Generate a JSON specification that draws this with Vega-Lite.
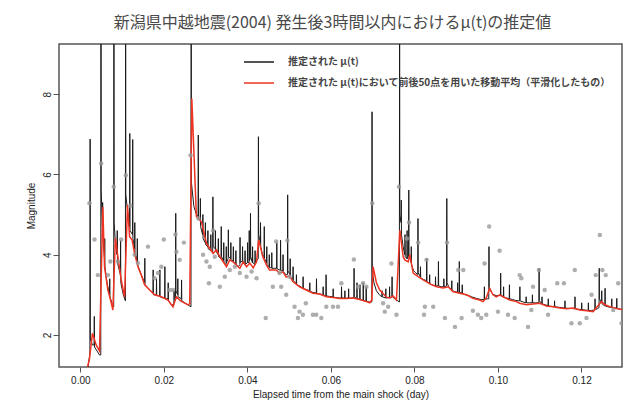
{
  "$schema": "https://vega.github.io/schema/vega-lite/v6.json",
  "width": 563,
  "height": 323,
  "autosize": {"type": "none"},
  "padding": {"left": 59, "top": 44, "right": 2, "bottom": 38},
  "background": "white",
  "config": {"view": {"stroke": "#555555", "strokeWidth": 1.5}, "font": "Liberation Sans"},
  "title": {"text": "新潟県中越地震(2004) 発生後3時間以内におけるμ(t)の推定値", "font": "Noto Sans CJK JP", "fontSize": 16, "fontWeight": "normal", "color": "#4a4a4a", "offset": 13, "anchor": "middle", "dx": -8},
  "datasets": {
    "mu": [
      {"t":0.0015,"m":0.9},{"t":0.0023,"m":1.55},{"t":0.00235,"m":6.88},{"t":0.0024,"m":1.9},{"t":0.0029,"m":1.75},{"t":0.0033,"m":1.75},{"t":0.00335,"m":2.46},{"t":0.0034,"m":1.7},{"t":0.0040,"m":1.6},{"t":0.0046,"m":1.5},{"t":0.0049,"m":1.5},{"t":0.00495,"m":12},{"t":0.0050,"m":5.6},{"t":0.0053,"m":4.7},{"t":0.00535,"m":5.3},{"t":0.0054,"m":4.5},{"t":0.0058,"m":3.9},{"t":0.00585,"m":4.4},{"t":0.0059,"m":3.7},{"t":0.0064,"m":3.3},{"t":0.0070,"m":3.0},{"t":0.00705,"m":3.4},{"t":0.0071,"m":2.95},{"t":0.0077,"m":2.75},{"t":0.0080,"m":2.7},{"t":0.00805,"m":12},{"t":0.0081,"m":4.8},{"t":0.0084,"m":4.3},{"t":0.0088,"m":4.0},{"t":0.00885,"m":4.6},{"t":0.0089,"m":3.8},{"t":0.0096,"m":3.5},{"t":0.00965,"m":4.35},{"t":0.0097,"m":3.3},{"t":0.0103,"m":3.0},{"t":0.0108,"m":2.85},{"t":0.01085,"m":12},{"t":0.0109,"m":5.5},{"t":0.0115,"m":4.9},{"t":0.0118,"m":4.7},{"t":0.01185,"m":7.02},{"t":0.0119,"m":4.6},{"t":0.0125,"m":4.5},{"t":0.01255,"m":6.87},{"t":0.0126,"m":4.4},{"t":0.0130,"m":4.15},{"t":0.01305,"m":4.8},{"t":0.0131,"m":4.05},{"t":0.0136,"m":3.85},{"t":0.01365,"m":4.4},{"t":0.0137,"m":3.75},{"t":0.0146,"m":3.5},{"t":0.0154,"m":3.3},{"t":0.01545,"m":3.91},{"t":0.0155,"m":3.25},{"t":0.0164,"m":3.15},{"t":0.0174,"m":3.05},{"t":0.01745,"m":3.62},{"t":0.0175,"m":3.0},{"t":0.0182,"m":3.0},{"t":0.01825,"m":3.4},{"t":0.0183,"m":2.98},{"t":0.0190,"m":2.98},{"t":0.01905,"m":3.62},{"t":0.0191,"m":2.95},{"t":0.0196,"m":2.93},{"t":0.0202,"m":2.92},{"t":0.02025,"m":3.7},{"t":0.0203,"m":2.9},{"t":0.0210,"m":2.9},{"t":0.02105,"m":3.3},{"t":0.0211,"m":2.85},{"t":0.0218,"m":2.75},{"t":0.0224,"m":2.75},{"t":0.02245,"m":3.1},{"t":0.0225,"m":2.9},{"t":0.0228,"m":2.85},{"t":0.02285,"m":5.03},{"t":0.0229,"m":3.1},{"t":0.0233,"m":3.0},{"t":0.02335,"m":3.4},{"t":0.0234,"m":2.95},{"t":0.0242,"m":2.9},{"t":0.02425,"m":3.37},{"t":0.0243,"m":2.85},{"t":0.0250,"m":2.8},{"t":0.0258,"m":2.75},{"t":0.0265,"m":2.7},{"t":0.02655,"m":12},{"t":0.0266,"m":5.8},{"t":0.0272,"m":5.2},{"t":0.0278,"m":5.0},{"t":0.0282,"m":4.95},{"t":0.02825,"m":6.98},{"t":0.0283,"m":4.9},{"t":0.0287,"m":4.85},{"t":0.02875,"m":5.4},{"t":0.0288,"m":4.7},{"t":0.0293,"m":4.5},{"t":0.02935,"m":5.0},{"t":0.0294,"m":4.4},{"t":0.0299,"m":4.3},{"t":0.02995,"m":4.8},{"t":0.0300,"m":4.25},{"t":0.0305,"m":4.2},{"t":0.03055,"m":4.6},{"t":0.0306,"m":4.15},{"t":0.0312,"m":4.1},{"t":0.03125,"m":4.5},{"t":0.0313,"m":4.1},{"t":0.0317,"m":4.05},{"t":0.03175,"m":5.44},{"t":0.0318,"m":4.2},{"t":0.0323,"m":4.15},{"t":0.03235,"m":4.6},{"t":0.0324,"m":4.1},{"t":0.0330,"m":4.0},{"t":0.03305,"m":4.4},{"t":0.0331,"m":3.95},{"t":0.0337,"m":3.9},{"t":0.03375,"m":4.7},{"t":0.0338,"m":3.95},{"t":0.0343,"m":3.85},{"t":0.03435,"m":4.3},{"t":0.0344,"m":3.8},{"t":0.0349,"m":3.75},{"t":0.03495,"m":4.2},{"t":0.0350,"m":3.8},{"t":0.0354,"m":3.9},{"t":0.03545,"m":4.62},{"t":0.0355,"m":3.95},{"t":0.0360,"m":3.9},{"t":0.03605,"m":4.3},{"t":0.0361,"m":3.85},{"t":0.0366,"m":3.85},{"t":0.03665,"m":4.2},{"t":0.0367,"m":3.8},{"t":0.0372,"m":3.75},{"t":0.03725,"m":4.1},{"t":0.0373,"m":3.75},{"t":0.0378,"m":3.7},{"t":0.0382,"m":3.75},{"t":0.03825,"m":4.43},{"t":0.0383,"m":3.8},{"t":0.0388,"m":3.85},{"t":0.03885,"m":4.2},{"t":0.0389,"m":3.8},{"t":0.0394,"m":3.75},{"t":0.03945,"m":4.1},{"t":0.0395,"m":3.75},{"t":0.0400,"m":3.8},{"t":0.04005,"m":4.3},{"t":0.0401,"m":3.8},{"t":0.0404,"m":3.8},{"t":0.04045,"m":4.6},{"t":0.0405,"m":3.85},{"t":0.0407,"m":3.9},{"t":0.04075,"m":5.03},{"t":0.0408,"m":3.95},{"t":0.0412,"m":3.8},{"t":0.04125,"m":4.2},{"t":0.0413,"m":3.8},{"t":0.0418,"m":3.75},{"t":0.04185,"m":4.1},{"t":0.0419,"m":3.8},{"t":0.0422,"m":3.85},{"t":0.0426,"m":3.9},{"t":0.04265,"m":6.94},{"t":0.0427,"m":4.5},{"t":0.0431,"m":4.3},{"t":0.04315,"m":4.8},{"t":0.0432,"m":4.2},{"t":0.0436,"m":4.0},{"t":0.0440,"m":3.95},{"t":0.04405,"m":4.7},{"t":0.0441,"m":3.9},{"t":0.0446,"m":3.8},{"t":0.04465,"m":4.2},{"t":0.0447,"m":3.75},{"t":0.0452,"m":3.7},{"t":0.04525,"m":4.0},{"t":0.0453,"m":3.68},{"t":0.0458,"m":3.67},{"t":0.04585,"m":4.05},{"t":0.0459,"m":3.66},{"t":0.0464,"m":3.66},{"t":0.0470,"m":3.66},{"t":0.04705,"m":4.3},{"t":0.0471,"m":3.65},{"t":0.0476,"m":3.62},{"t":0.0479,"m":3.62},{"t":0.04795,"m":4.36},{"t":0.0480,"m":3.6},{"t":0.0485,"m":3.6},{"t":0.04855,"m":4.0},{"t":0.0486,"m":3.58},{"t":0.0492,"m":3.5},{"t":0.0496,"m":3.5},{"t":0.04965,"m":5.49},{"t":0.0497,"m":3.6},{"t":0.0502,"m":3.5},{"t":0.05025,"m":3.9},{"t":0.0503,"m":3.45},{"t":0.0509,"m":3.38},{"t":0.05095,"m":3.7},{"t":0.0510,"m":3.35},{"t":0.0517,"m":3.28},{"t":0.05175,"m":3.5},{"t":0.0518,"m":3.25},{"t":0.0525,"m":3.22},{"t":0.0533,"m":3.16},{"t":0.05335,"m":3.45},{"t":0.0534,"m":3.15},{"t":0.0541,"m":3.13},{"t":0.0549,"m":3.1},{"t":0.05495,"m":3.3},{"t":0.0550,"m":3.08},{"t":0.0557,"m":3.06},{"t":0.0565,"m":3.04},{"t":0.05655,"m":3.4},{"t":0.0566,"m":3.03},{"t":0.0573,"m":3.02},{"t":0.0581,"m":3.0},{"t":0.05815,"m":3.2},{"t":0.0582,"m":2.99},{"t":0.0588,"m":2.98},{"t":0.05885,"m":3.5},{"t":0.0589,"m":2.97},{"t":0.0596,"m":2.96},{"t":0.0605,"m":2.95},{"t":0.06055,"m":3.15},{"t":0.0606,"m":2.94},{"t":0.0613,"m":2.93},{"t":0.0621,"m":2.92},{"t":0.0625,"m":2.92},{"t":0.06255,"m":3.2},{"t":0.0626,"m":2.92},{"t":0.0633,"m":2.92},{"t":0.06335,"m":3.1},{"t":0.0634,"m":2.91},{"t":0.0642,"m":2.92},{"t":0.06425,"m":3.15},{"t":0.0643,"m":2.91},{"t":0.0649,"m":2.92},{"t":0.0655,"m":2.92},{"t":0.06555,"m":3.66},{"t":0.0656,"m":2.95},{"t":0.0662,"m":2.9},{"t":0.06625,"m":3.3},{"t":0.0663,"m":2.9},{"t":0.0669,"m":2.88},{"t":0.06695,"m":3.25},{"t":0.0670,"m":2.88},{"t":0.0677,"m":2.86},{"t":0.06775,"m":3.3},{"t":0.0678,"m":2.85},{"t":0.0684,"m":2.84},{"t":0.06845,"m":3.2},{"t":0.0685,"m":2.84},{"t":0.0692,"m":2.82},{"t":0.0698,"m":2.82},{"t":0.06985,"m":7.56},{"t":0.0699,"m":3.6},{"t":0.0703,"m":3.3},{"t":0.0709,"m":3.1},{"t":0.0716,"m":3.0},{"t":0.0722,"m":2.95},{"t":0.07225,"m":3.1},{"t":0.0723,"m":2.95},{"t":0.0731,"m":2.92},{"t":0.07315,"m":3.15},{"t":0.0732,"m":2.92},{"t":0.0740,"m":2.93},{"t":0.07405,"m":3.2},{"t":0.0741,"m":2.92},{"t":0.0746,"m":2.95},{"t":0.07465,"m":3.45},{"t":0.0747,"m":2.95},{"t":0.0753,"m":2.9},{"t":0.0760,"m":2.85},{"t":0.0764,"m":2.82},{"t":0.07645,"m":12},{"t":0.0765,"m":5.0},{"t":0.0768,"m":4.8},{"t":0.07685,"m":5.36},{"t":0.0769,"m":4.5},{"t":0.0773,"m":4.2},{"t":0.0777,"m":4.0},{"t":0.07775,"m":4.5},{"t":0.0778,"m":3.95},{"t":0.0782,"m":3.9},{"t":0.07825,"m":4.6},{"t":0.0783,"m":3.9},{"t":0.0786,"m":3.95},{"t":0.07865,"m":5.61},{"t":0.0787,"m":4.0},{"t":0.0792,"m":3.8},{"t":0.07925,"m":4.2},{"t":0.0793,"m":3.75},{"t":0.0798,"m":3.6},{"t":0.0803,"m":3.55},{"t":0.0808,"m":3.5},{"t":0.08085,"m":4.9},{"t":0.0809,"m":3.55},{"t":0.0814,"m":3.45},{"t":0.08145,"m":3.7},{"t":0.0815,"m":3.42},{"t":0.0822,"m":3.38},{"t":0.0829,"m":3.35},{"t":0.08295,"m":3.91},{"t":0.0830,"m":3.33},{"t":0.0836,"m":3.28},{"t":0.08365,"m":3.5},{"t":0.0837,"m":3.27},{"t":0.0844,"m":3.24},{"t":0.0850,"m":3.22},{"t":0.08505,"m":3.45},{"t":0.0851,"m":3.22},{"t":0.0857,"m":3.22},{"t":0.08575,"m":3.83},{"t":0.0858,"m":3.22},{"t":0.0864,"m":3.2},{"t":0.0870,"m":3.2},{"t":0.08705,"m":3.4},{"t":0.0871,"m":3.2},{"t":0.0877,"m":3.22},{"t":0.08775,"m":5.4},{"t":0.0878,"m":3.3},{"t":0.0883,"m":3.18},{"t":0.0889,"m":3.12},{"t":0.08895,"m":3.35},{"t":0.0890,"m":3.1},{"t":0.0897,"m":3.08},{"t":0.0903,"m":3.06},{"t":0.09035,"m":3.3},{"t":0.0904,"m":3.06},{"t":0.0907,"m":3.05},{"t":0.09075,"m":3.83},{"t":0.0908,"m":3.06},{"t":0.0914,"m":3.04},{"t":0.09145,"m":3.25},{"t":0.0915,"m":3.03},{"t":0.0922,"m":3.0},{"t":0.0930,"m":2.98},{"t":0.0937,"m":2.95},{"t":0.0945,"m":2.92},{"t":0.0952,"m":2.9},{"t":0.0960,"m":2.88},{"t":0.0967,"m":2.88},{"t":0.09675,"m":3.2},{"t":0.0968,"m":2.88},{"t":0.0974,"m":2.9},{"t":0.0978,"m":2.9},{"t":0.09785,"m":4.2},{"t":0.0979,"m":3.2},{"t":0.0985,"m":3.05},{"t":0.0990,"m":3.0},{"t":0.0996,"m":2.98},{"t":0.1000,"m":2.98},{"t":0.1006,"m":2.98},{"t":0.10065,"m":3.54},{"t":0.1007,"m":3.0},{"t":0.1013,"m":2.95},{"t":0.10135,"m":3.2},{"t":0.1014,"m":2.94},{"t":0.1020,"m":2.92},{"t":0.1027,"m":2.9},{"t":0.10275,"m":3.25},{"t":0.1028,"m":2.9},{"t":0.1035,"m":2.88},{"t":0.1042,"m":2.86},{"t":0.1048,"m":2.85},{"t":0.1052,"m":2.85},{"t":0.10525,"m":3.2},{"t":0.1053,"m":2.85},{"t":0.1060,"m":2.82},{"t":0.1067,"m":2.8},{"t":0.10675,"m":2.95},{"t":0.1068,"m":2.8},{"t":0.1075,"m":2.8},{"t":0.1082,"m":2.8},{"t":0.10825,"m":3.0},{"t":0.1083,"m":2.8},{"t":0.1090,"m":2.8},{"t":0.1098,"m":2.8},{"t":0.10985,"m":3.66},{"t":0.1099,"m":2.85},{"t":0.1105,"m":2.78},{"t":0.11055,"m":2.95},{"t":0.1106,"m":2.77},{"t":0.1113,"m":2.75},{"t":0.1120,"m":2.73},{"t":0.11205,"m":2.9},{"t":0.1121,"m":2.72},{"t":0.1128,"m":2.71},{"t":0.1135,"m":2.7},{"t":0.11355,"m":2.85},{"t":0.1136,"m":2.7},{"t":0.1144,"m":2.69},{"t":0.1152,"m":2.68},{"t":0.1160,"m":2.67},{"t":0.11605,"m":2.85},{"t":0.1161,"m":2.67},{"t":0.1168,"m":2.66},{"t":0.1176,"m":2.66},{"t":0.1184,"m":2.65},{"t":0.11845,"m":2.95},{"t":0.1185,"m":2.65},{"t":0.1192,"m":2.64},{"t":0.1200,"m":2.63},{"t":0.12005,"m":2.8},{"t":0.1201,"m":2.63},{"t":0.1208,"m":2.62},{"t":0.1216,"m":2.61},{"t":0.12165,"m":2.8},{"t":0.1217,"m":2.61},{"t":0.1224,"m":2.61},{"t":0.1232,"m":2.62},{"t":0.12325,"m":2.9},{"t":0.1233,"m":2.63},{"t":0.1238,"m":2.65},{"t":0.1242,"m":2.68},{"t":0.12425,"m":3.66},{"t":0.1243,"m":2.9},{"t":0.1248,"m":2.8},{"t":0.12485,"m":3.1},{"t":0.1249,"m":2.78},{"t":0.1256,"m":2.72},{"t":0.12565,"m":3.16},{"t":0.1257,"m":2.72},{"t":0.1264,"m":2.7},{"t":0.1272,"m":2.68},{"t":0.12725,"m":2.9},{"t":0.1273,"m":2.68},{"t":0.1280,"m":2.67},{"t":0.1284,"m":2.66},{"t":0.12845,"m":2.91},{"t":0.1285,"m":2.66},{"t":0.1292,"m":2.64},{"t":0.1300,"m":2.63}
    ],
    "sm": [
      {"t":0.0010,"m":0.9},{"t":0.0022,"m":1.4},{"t":0.0029,"m":2.04},{"t":0.0038,"m":1.75},{"t":0.0046,"m":1.6},{"t":0.0054,"m":5.19},{"t":0.0058,"m":3.7},{"t":0.0066,"m":3.12},{"t":0.0074,"m":2.8},{"t":0.0078,"m":2.62},{"t":0.0084,"m":4.41},{"t":0.0090,"m":3.95},{"t":0.0098,"m":3.37},{"t":0.0106,"m":2.95},{"t":0.0113,"m":5.24},{"t":0.0118,"m":4.45},{"t":0.0124,"m":4.37},{"t":0.0130,"m":4.03},{"t":0.0138,"m":3.7},{"t":0.0146,"m":3.49},{"t":0.0154,"m":3.25},{"t":0.0166,"m":3.12},{"t":0.0178,"m":3.0},{"t":0.0194,"m":2.95},{"t":0.0210,"m":2.87},{"t":0.0222,"m":2.7},{"t":0.0230,"m":2.95},{"t":0.0240,"m":2.85},{"t":0.0250,"m":2.79},{"t":0.0258,"m":2.75},{"t":0.0262,"m":2.78},{"t":0.0267,"m":7.89},{"t":0.0278,"m":4.95},{"t":0.0290,"m":4.82},{"t":0.0302,"m":4.28},{"t":0.0310,"m":4.16},{"t":0.0318,"m":4.03},{"t":0.0326,"m":4.12},{"t":0.0334,"m":3.95},{"t":0.0350,"m":3.7},{"t":0.0358,"m":3.87},{"t":0.0366,"m":3.82},{"t":0.0382,"m":3.66},{"t":0.0390,"m":3.82},{"t":0.0398,"m":3.7},{"t":0.0406,"m":3.79},{"t":0.0414,"m":3.67},{"t":0.0422,"m":3.82},{"t":0.0427,"m":4.37},{"t":0.0437,"m":3.95},{"t":0.0446,"m":3.74},{"t":0.0453,"m":3.62},{"t":0.0469,"m":3.62},{"t":0.0477,"m":3.54},{"t":0.0485,"m":3.57},{"t":0.0493,"m":3.44},{"t":0.0501,"m":3.47},{"t":0.0509,"m":3.33},{"t":0.0525,"m":3.2},{"t":0.0541,"m":3.12},{"t":0.0557,"m":3.04},{"t":0.0573,"m":3.02},{"t":0.0589,"m":2.95},{"t":0.0605,"m":2.93},{"t":0.0621,"m":2.91},{"t":0.0637,"m":2.91},{"t":0.0653,"m":2.92},{"t":0.0669,"m":2.88},{"t":0.0685,"m":2.83},{"t":0.0693,"m":2.8},{"t":0.0698,"m":2.87},{"t":0.0701,"m":3.7},{"t":0.0709,"m":3.3},{"t":0.0717,"m":3.12},{"t":0.0733,"m":2.94},{"t":0.0741,"m":2.92},{"t":0.0749,"m":2.97},{"t":0.0757,"m":2.87},{"t":0.0765,"m":4.61},{"t":0.0773,"m":3.95},{"t":0.0777,"m":3.87},{"t":0.0785,"m":3.82},{"t":0.0789,"m":4.0},{"t":0.0797,"m":3.54},{"t":0.0809,"m":3.45},{"t":0.0821,"m":3.37},{"t":0.0837,"m":3.27},{"t":0.0853,"m":3.2},{"t":0.0869,"m":3.17},{"t":0.0881,"m":3.2},{"t":0.0892,"m":3.08},{"t":0.0908,"m":3.04},{"t":0.0925,"m":3.0},{"t":0.0940,"m":2.91},{"t":0.0956,"m":2.87},{"t":0.0964,"m":2.83},{"t":0.0972,"m":2.92},{"t":0.0980,"m":3.16},{"t":0.0988,"m":3.0},{"t":0.0996,"m":2.95},{"t":0.1004,"m":3.0},{"t":0.1012,"m":2.95},{"t":0.1020,"m":2.91},{"t":0.1028,"m":2.87},{"t":0.1044,"m":2.83},{"t":0.1052,"m":2.79},{"t":0.1068,"m":2.75},{"t":0.1084,"m":2.77},{"t":0.1100,"m":2.79},{"t":0.1116,"m":2.72},{"t":0.1132,"m":2.7},{"t":0.1148,"m":2.67},{"t":0.1164,"m":2.65},{"t":0.1180,"m":2.67},{"t":0.1196,"m":2.62},{"t":0.1212,"m":2.6},{"t":0.1228,"m":2.58},{"t":0.1239,"m":2.72},{"t":0.1248,"m":2.83},{"t":0.1256,"m":2.75},{"t":0.1268,"m":2.7},{"t":0.1284,"m":2.66},{"t":0.1302,"m":2.62}
    ],
    "obs": [
      {"t":0.0022,"m":5.28},{"t":0.0034,"m":4.38},{"t":0.0042,"m":3.49},{"t":0.0050,"m":6.27},{"t":0.0066,"m":3.49},{"t":0.0072,"m":3.83},{"t":0.0080,"m":5.69},{"t":0.0090,"m":3.83},{"t":0.0098,"m":4.38},{"t":0.0109,"m":5.98},{"t":0.0120,"m":5.22},{"t":0.0130,"m":4.0},{"t":0.0138,"m":3.79},{"t":0.0162,"m":4.2},{"t":0.0178,"m":3.41},{"t":0.0186,"m":3.54},{"t":0.0194,"m":3.7},{"t":0.0200,"m":4.38},{"t":0.0214,"m":3.12},{"t":0.0222,"m":3.12},{"t":0.0228,"m":4.5},{"t":0.0230,"m":4.07},{"t":0.0238,"m":3.87},{"t":0.0248,"m":4.3},{"t":0.0264,"m":6.48},{"t":0.0283,"m":4.9},{"t":0.0294,"m":4.0},{"t":0.0302,"m":3.83},{"t":0.0308,"m":3.29},{"t":0.0310,"m":3.7},{"t":0.0318,"m":4.6},{"t":0.0322,"m":3.95},{"t":0.0334,"m":3.2},{"t":0.0346,"m":3.45},{"t":0.0358,"m":3.62},{"t":0.0370,"m":3.7},{"t":0.0382,"m":3.54},{"t":0.0398,"m":3.45},{"t":0.0410,"m":3.58},{"t":0.0422,"m":3.41},{"t":0.0427,"m":5.28},{"t":0.0444,"m":2.42},{"t":0.0461,"m":3.2},{"t":0.0469,"m":4.33},{"t":0.0477,"m":3.54},{"t":0.0481,"m":3.2},{"t":0.0493,"m":3.0},{"t":0.0496,"m":4.35},{"t":0.0501,"m":3.45},{"t":0.0513,"m":2.7},{"t":0.0521,"m":2.42},{"t":0.0525,"m":2.58},{"t":0.0533,"m":2.5},{"t":0.0540,"m":2.79},{"t":0.0557,"m":2.5},{"t":0.0565,"m":2.5},{"t":0.0577,"m":2.42},{"t":0.0589,"m":2.7},{"t":0.0605,"m":2.7},{"t":0.0617,"m":2.7},{"t":0.0625,"m":3.29},{"t":0.0655,"m":3.88},{"t":0.0665,"m":3.2},{"t":0.0677,"m":3.29},{"t":0.0685,"m":3.2},{"t":0.0699,"m":5.28},{"t":0.0725,"m":2.79},{"t":0.0729,"m":2.58},{"t":0.0737,"m":2.7},{"t":0.0745,"m":3.78},{"t":0.0757,"m":2.5},{"t":0.0763,"m":5.69},{"t":0.0782,"m":4.4},{"t":0.0787,"m":4.8},{"t":0.0809,"m":4.3},{"t":0.0823,"m":2.5},{"t":0.0825,"m":2.7},{"t":0.0829,"m":3.87},{"t":0.0845,"m":2.7},{"t":0.0873,"m":2.42},{"t":0.0878,"m":4.3},{"t":0.0897,"m":2.2},{"t":0.0905,"m":3.62},{"t":0.0913,"m":2.42},{"t":0.0917,"m":3.62},{"t":0.0940,"m":2.6},{"t":0.0952,"m":2.5},{"t":0.0960,"m":2.42},{"t":0.0968,"m":3.78},{"t":0.0972,"m":2.5},{"t":0.0979,"m":4.7},{"t":0.1000,"m":2.58},{"t":0.1004,"m":4.1},{"t":0.1024,"m":2.5},{"t":0.1040,"m":2.42},{"t":0.1052,"m":3.49},{"t":0.1056,"m":3.41},{"t":0.1072,"m":2.2},{"t":0.1080,"m":2.62},{"t":0.1084,"m":3.2},{"t":0.1098,"m":3.62},{"t":0.1112,"m":3.12},{"t":0.1120,"m":2.5},{"t":0.1142,"m":3.29},{"t":0.1158,"m":3.29},{"t":0.1176,"m":2.29},{"t":0.1184,"m":3.62},{"t":0.1196,"m":2.29},{"t":0.1212,"m":2.42},{"t":0.1224,"m":3.0},{"t":0.1234,"m":3.49},{"t":0.1244,"m":4.49},{"t":0.1250,"m":3.62},{"t":0.1258,"m":3.49},{"t":0.1276,"m":2.62},{"t":0.1288,"m":3.29},{"t":0.1296,"m":2.29}
    ]
  },
  "encoding": {
    "x": {"field": "t", "type": "quantitative", "scale": {"domain": [-0.0051, 0.1297], "nice": false, "zero": false},
      "axis": {"values": [0, 0.02, 0.04, 0.06, 0.08, 0.1, 0.12], "format": ".2f", "title": "Elapsed time from the main shock (day)", "domain": false, "grid": false, "tickColor": "#555555", "tickSize": 5, "labelFontSize": 10, "labelColor": "#222222", "labelPadding": 3, "titleFontSize": 10, "titleFontWeight": "normal", "titleColor": "#222222", "titlePadding": 4}},
    "y": {"field": "m", "type": "quantitative", "scale": {"domain": [1.2, 9.25], "nice": false, "zero": false},
      "axis": {"values": [2, 4, 6, 8], "title": "Magnitude", "domain": false, "grid": false, "tickColor": "#555555", "tickSize": 6, "labelAngle": -90, "labelAlign": "center", "labelBaseline": "bottom", "labelPadding": 1, "labelFontSize": 10, "labelColor": "#222222", "titleFontSize": 10, "titleFontWeight": "normal", "titleColor": "#222222", "titlePadding": 6}}
  },
  "layer": [
    {"data": {"name": "mu"}, "mark": {"type": "line", "strokeWidth": 1, "clip": true},
      "encoding": {"color": {"datum": "推定された μ(t)", "scale": {"domain": ["推定された μ(t)", "推定された μ(t)において前後50点を用いた移動平均（平滑化したもの）"], "range": ["#1a1a1a", "#ee3322"]},
        "legend": {"orient": "none", "legendX": 184, "legendY": 2, "title": null, "symbolType": "stroke", "symbolSize": 900, "symbolStrokeWidth": 1.5, "labelFont": "Noto Sans CJK JP", "labelFontSize": 10, "labelFontWeight": "bold", "labelColor": "#444444", "labelLimit": 0, "labelOffset": 13, "rowPadding": -12, "padding": 0}}}},
    {"data": {"name": "sm"}, "mark": {"type": "line", "strokeWidth": 1.5, "clip": true},
      "encoding": {"color": {"datum": "推定された μ(t)において前後50点を用いた移動平均（平滑化したもの）"}}},
    {"data": {"name": "obs"}, "mark": {"type": "point", "filled": true, "color": "#9a9a9a", "opacity": 0.8, "size": 20, "clip": true}}
  ]
}
